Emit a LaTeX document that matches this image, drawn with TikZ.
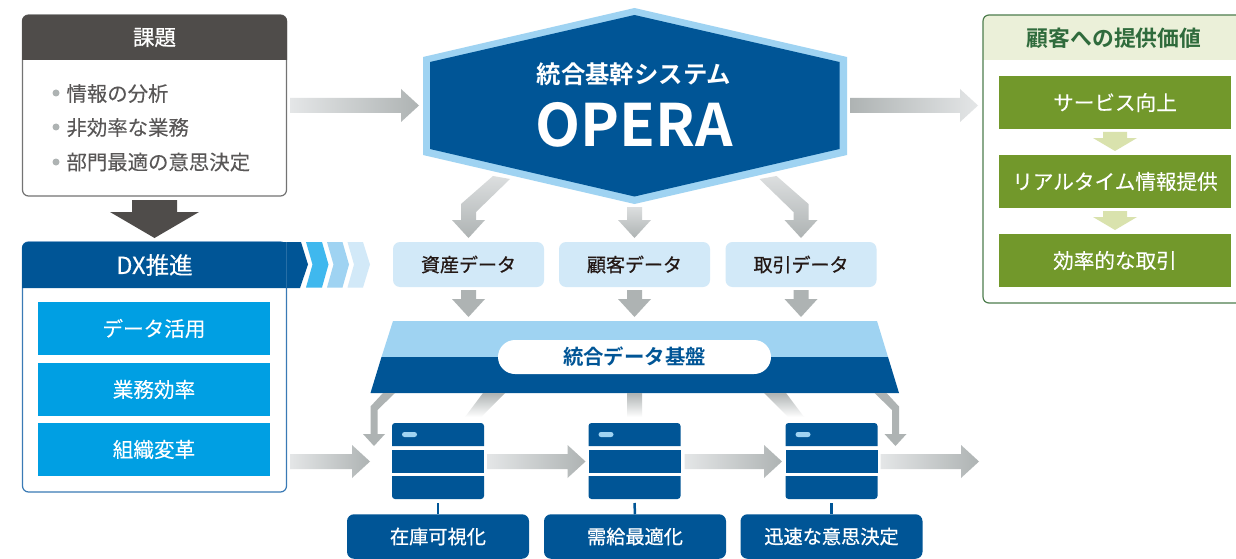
\documentclass[tikz,border=0pt]{standalone}
\usepackage{fontspec}
\usetikzlibrary{calc}
\newfontfamily\jp[FakeBold=0.08]{Noto Sans CJK JP}
\newfontfamily\jpm[FakeBold=0.7]{Noto Sans CJK JP}
\newfontfamily\jpb{Noto Sans CJK JP Bold}
\definecolor{navy}{HTML}{005596}
\definecolor{sky}{HTML}{9FD3F2}
\definecolor{pale}{HTML}{D2E9F8}
\definecolor{cyanb}{HTML}{009FE3}
\definecolor{chev}{HTML}{3FB8EE}
\definecolor{dark}{HTML}{4F4C4A}
\definecolor{greyt}{HTML}{595757}
\definecolor{arrow}{HTML}{AEB3B3}
\definecolor{arrowl}{HTML}{E4E6E7}
\definecolor{grn}{HTML}{72982B}
\definecolor{grnl}{HTML}{EBF0D9}
\definecolor{grna}{HTML}{D9E2AD}
\definecolor{grnd}{HTML}{4E7D4E}
\definecolor{grnt}{HTML}{2F6B3C}
\definecolor{ink}{HTML}{231815}
\definecolor{dxline}{HTML}{3A7AB5}
\newcommand{\fs}[1]{\fontsize{#1}{#1}\selectfont}
\tikzset{
  base/.style={inner sep=0pt,outer sep=0pt},
  wt/.style={base,text=white,font=\jp\fs{20}},
  listt/.style={base,anchor=west,text=greyt,font=\jp\fs{20.4}},
  datab/.style={base,fill=pale,rounded corners=7pt,minimum width=151pt,minimum height=45pt,text=ink,font=\jpm\fs{19}},
  goalb/.style={base,fill=navy,rounded corners=7pt,minimum width=182pt,minimum height=44.5pt,text=white,font=\jpm\fs{19.2}},
  bluebox/.style={base,fill=cyanb,minimum width=232pt,minimum height=53pt,text=white,font=\jp\fs{20.6}},
  grnbox/.style={base,fill=grn,minimum width=232pt,minimum height=53pt,text=white,font=\jp\fs{20.6}},
  bul/.style={base,circle,fill=arrow,minimum size=7pt},
  srvnode/.style={base,rectangle,minimum width=92pt,minimum height=76pt},
  shr/.style={left color=arrowl,right color=arrow},
  shl/.style={left color=arrow,right color=arrowl},
  shv/.style={top color=arrowl!85!arrow,bottom color=arrow},
  flat/.style={fill=arrow},
  fadev/.style={top color=arrow,bottom color=white},
  stem/.style={draw=navy,line width=2.5pt},
}
% horizontal fat arrow: from (#2) to tip (#3)
\newcommand{\hfat}[3]{\path[#1] let \p1=(#2),\p2=(#3) in
  (\x1,\y1+7.5pt) -- (\x2-18pt,\y1+7.5pt) -- (\x2-18pt,\y1+16.5pt) -- (\x2,\y1)
  -- (\x2-18pt,\y1-16.5pt) -- (\x2-18pt,\y1-7.5pt) -- (\x1,\y1-7.5pt) -- cycle;}
% vertical fat arrow ending at tip (#2); #3 shaft length
\newcommand{\vfat}[3]{\path[#1,shift={(#2)}]
  (-7.5,-18-#3) -- (7.5,-18-#3) -- (7.5,-18) -- (16.5,-18) -- (0,0) -- (-16.5,-18) -- (-7.5,-18) -- cycle;}
% bent arrow from the hexagon
\newcommand{\bentbig}[2]{\path[shv,shift={(#1)},xscale=#2]
  (24.5,-62) -- (41.5,-59) -- (7.5,-26) -- (7.5,-18) -- (16.5,-18) -- (0,0) -- (-16.5,-18) -- (-7.5,-18) -- (-7.5,-34) -- cycle;}
% small bent arrow from the base
\newcommand{\bentsmall}[2]{\path[flat,shift={(#1)},xscale=#2]
  (9,-53) -- (21,-53) -- (3.5,-36) -- (3.5,-12) -- (11,-12) -- (0,0) -- (-11,-12) -- (-3.5,-12) -- (-3.5,-39.5) -- cycle;}
\newcommand{\server}[2]{\node[srvnode] (#1) at #2 {};
  \begin{scope}[shift={(#1.center)}]
    \fill[navy,rounded corners=3pt] (-46,-15) -- (-46,-38) -- (46,-38) [sharp corners] -- (46,-15) -- cycle;
    \fill[navy] (-46,-11) rectangle (46,12);
    \fill[navy,rounded corners=3pt] (-46,15) -- (-46,38) -- (46,38) [sharp corners] -- (46,15) -- cycle;
    \fill[sky,rounded corners=2.5pt] (-36,-29) rectangle (-21,-24);
  \end{scope}}
\begin{document}
\begin{tikzpicture}[x=1pt,y=-1pt]
\useasboundingbox (0,0) rectangle (1236,559);
\fill[white] (0,0) rectangle (1236,559);

% --- Kadai
\node[base,draw=black!55,line width=1.2pt,fill=white,rounded corners=6pt,minimum width=264pt,minimum height=181pt] (kadai) at (154.5,105.5) {};
\fill[dark] (22,60) [rounded corners=6pt] -- (22,15) -- (287,15) [sharp corners] -- (287,60) -- cycle;
\node[wt,font=\jpm\fs{21.5}] (kadaiT) at (154.5,37.5) {課題};
\node[bul] (b1) at (56,93) {};
\node[bul] (b2) at (56,127) {};
\node[bul] (b3) at (56,162) {};
\node[listt] (l1) at (66.5,93.5) {情報の分析};
\node[listt] (l2) at (66.5,127.5) {非効率な業務};
\node[listt] (l3) at (66.5,162) {部門最適の意思決定};

% --- dark arrow
\coordinate (dxtip) at (154.5,238);
\path[fill=dark,shift={(dxtip)}] (-22.5,-38) -- (22.5,-38) -- (22.5,-26) -- (44.5,-26) -- (0,0) -- (-44.5,-26) -- (-22.5,-26) -- cycle;

% --- DX
\node[base,draw=dxline,line width=1.2pt,fill=white,rounded corners=6pt,minimum width=264pt,minimum height=250pt] (dx) at (154.5,367) {};
\fill[navy] (22,288) [rounded corners=6pt] -- (22,242) -- (100,242) [sharp corners] -- (301,242) -- (308,264.5) -- (300,288) -- cycle;
\draw[navy!85!white,line width=.7pt] (286.5,242) -- (286.5,288);
\fill[chev] (306,242) -- (322,242) -- (328.5,264.5) -- (322,287.5) -- (306,287.5) -- (312.5,264.5) -- cycle;
\fill[sky] (327,242) -- (342.5,242) -- (349,264.5) -- (342.5,287.5) -- (327,287.5) -- (333.5,264.5) -- cycle;
\fill[pale] (347.5,242) -- (363,242) -- (370,264.5) -- (363,287.5) -- (347.5,287.5) -- (354,264.5) -- cycle;
\node[wt,font=\jp\fs{23.6}] (dxT) at (154.5,265) {DX推進};
\node[bluebox] (d1) at (154,328.5) {データ活用};
\node[bluebox] (d2) at (154,389.5) {業務効率};
\node[bluebox] (d3) at (154,449.5) {組織変革};

% --- Hexagon
\fill[sky] (634.5,8) -- (847,57) -- (847,155) -- (634.5,204) -- (423,155) -- (423,57) -- cycle;
\fill[navy] (634.5,15) -- (839.5,62) -- (839.5,149) -- (634.5,196.5) -- (430,149) -- (430,62) -- cycle;
\node[wt,font=\jpb\fs{24.4}] (hexT) at (634,74) {統合基幹システム};
\node[base,text=white,font=\jpb\fs{58.5}] (opera) at (634,125) {OPERA};
\coordinate (hexL) at (423,105.5);
\coordinate (hexR) at (850,105.5);

% --- Data boxes
\node[datab] (assets) at (468.5,264.5) {資産データ};
\node[datab] (cust) at (634.5,264.5) {顧客データ};
\node[datab] (deal) at (801,264.5) {取引データ};

% --- Base
\fill[sky] (393,321) -- (877,321) -- (888,357) -- (381.5,357) -- cycle;
\fill[navy] (381.5,357) -- (888,357) -- (899,393) -- (370.5,393) -- cycle;
\node[base,fill=white,rounded corners=17pt,minimum width=273pt,minimum height=34pt,text=navy,font=\jpb\fs{20.4}] (base) at (634.5,357) {統合データ基盤};

% --- arrows hex and data
\hfat{shr}{290,105.5}{419,105.5}
\hfat{shl}{850,105.5}{978,105.5}
\bentbig{$(assets.north)+(0,-4)$}{1}
\vfat{shv}{$(cust.north)+(0,-4)$}{13}
\bentbig{$(deal.north)+(0,-4)$}{-1}
\vfat{flat}{$(assets.south)+(0,30)$}{9}
\vfat{flat}{$(cust.south)+(0,30)$}{9}
\vfat{flat}{$(deal.south)+(0,30)$}{9}

% --- Servers
\server{s1}{(438,461)}
\server{s2}{(634.5,461)}
\server{s3}{(831.5,461)}

% --- below base
\bentsmall{374,446}{1}
\bentsmall{895.5,446}{-1}
\path[fadev] (483,393) -- (505,393) -- (481,417) -- (465,417) -- cycle;
\path[fadev] (627,393) -- (642,393) -- (642,417) -- (627,417) -- cycle;
\path[fadev] (786,393) -- (764,393) -- (788,417) -- (804,417) -- cycle;

% --- horizontal flow
\hfat{shr}{290,461.5}{370,461.5}
\hfat{shr}{$(s1.east)+(3,0.5)$}{$(s2.west)+(-3,0.5)$}
\hfat{shr}{$(s2.east)+(4,0.5)$}{$(s3.west)+(-3.5,0.5)$}
\hfat{shr}{$(s3.east)+(3,0.5)$}{979,461.5}

% --- Goals
\node[goalb] (g1) at (438,536.5) {在庫可視化};
\node[goalb] (g2) at (635,536.5) {需給最適化};
\node[goalb] (g3) at (831.5,536.5) {迅速な意思決定};
\draw[stem] ($(s1.south)+(0,4)$) -- (g1.north);
\draw[stem] ($(s2.south)+(0,4)$) -- (g2.north);
\draw[stem] ($(s3.south)+(0,4)$) -- (g3.north);

% --- Right panel
\fill[grnl] (983,60) [rounded corners=6pt] -- (983,15) -- (1100,15) [sharp corners] -- (1236,15) -- (1236,60) -- cycle;
\draw[grnd,line width=1.2pt] (1236,303) [rounded corners=6pt] -- (983,303) -- (983,15) -- (1100,15) [sharp corners] -- (1236,15);
\node[base,text=grnt,font=\jpb\fs{21.8}] (valT) at (1114,38) {顧客への提供価値};
\node[grnbox] (v1) at (1115,102.5) {サービス向上};
\node[grnbox] (v2) at (1115,181.5) {リアルタイム情報提供};
\node[grnbox] (v3) at (1115,260.5) {効率的な取引};
\path[fill=grna,shift={($(v1.south)+(0,22)$)}] (-12,-19) -- (12,-19) -- (12,-13) -- (22,-13) -- (0,0) -- (-22,-13) -- (-12,-13) -- cycle;
\path[fill=grna,shift={($(v2.south)+(0,22)$)}] (-12,-19) -- (12,-19) -- (12,-13) -- (22,-13) -- (0,0) -- (-22,-13) -- (-12,-13) -- cycle;
\end{tikzpicture}
\end{document}
